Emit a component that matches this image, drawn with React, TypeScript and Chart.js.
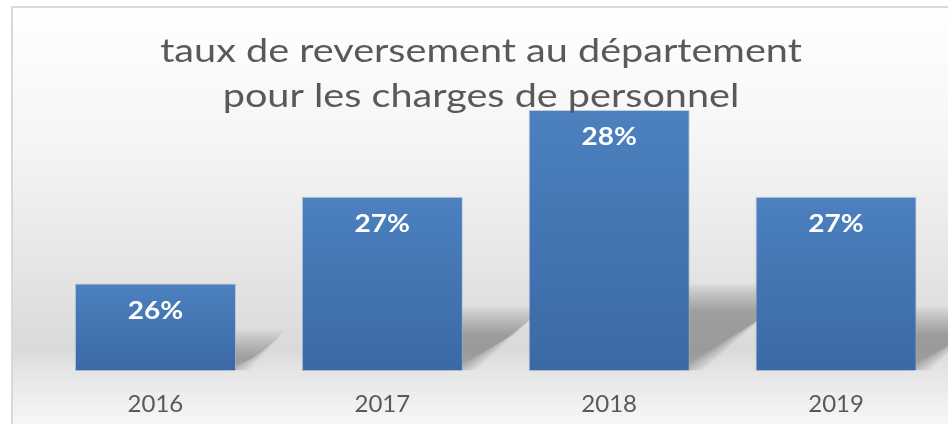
import React, { useEffect, useRef } from "react";
import { Chart, registerables } from "chart.js";

Chart.register(...registerables);

const categories = ["2016", "2017", "2018", "2019"];
const values = [26, 27, 28, 27];
const yMin = 25;
const yMax = 28;
const titleLines = ["taux de reversement au département", "pour les charges de personnel"];

const W = 960;
const H = 452;

const backgroundPlugin = {
  id: "panelBackground",
  beforeDraw(chart: any) {
    const ctx = chart.ctx;
    ctx.save();
    ctx.fillStyle = "#ffffff";
    ctx.fillRect(0, 0, chart.width, chart.height);
    const g = ctx.createLinearGradient(0, 7, 0, 424);
    g.addColorStop(0, "#ffffff");
    g.addColorStop(0.33, "#f5f5f5");
    g.addColorStop(0.7, "#e1e1e1");
    g.addColorStop(0.82, "#dadada");
    g.addColorStop(0.88, "#e6e6e6");
    g.addColorStop(1, "#f7f7f7");
    ctx.fillStyle = g;
    ctx.fillRect(12, 7, chart.width, chart.height);
    ctx.strokeStyle = "#d9d9d9";
    ctx.lineWidth = 2;
    ctx.strokeRect(12, 7, chart.width + 10, chart.height + 10);
    ctx.restore();
  },
};

const shadowPlugin = {
  id: "barShadows",
  beforeDatasetsDraw(chart: any) {
    const ctx = chart.ctx;
    const meta = chart.getDatasetMeta(0);
    const N = 20;
    const R = 14;
    const bottom = chart.chartArea.bottom;
    ctx.save();
    ctx.fillStyle = "rgba(70,70,70,0.019)";
    meta.data.forEach((el: any) => {
      const base = Math.min(el.base, bottom);
      const h = base - el.y;
      const sh = 0.27 * h + 3;
      const dx = sh * 1.35;
      const x1 = el.x - el.width / 2;
      const x2 = el.x + el.width / 2;
      for (let k = 0; k < N; k++) {
        const e = R * (1 - (2 * k) / (N - 1));
        ctx.beginPath();
        ctx.moveTo(x1, base);
        ctx.lineTo(x2 + e, base);
        ctx.lineTo(x2 + dx + e, base - sh - e);
        ctx.lineTo(x1 + dx, base - sh - e);
        ctx.closePath();
        ctx.fill();
      }
    });
    ctx.restore();
  },
};

const labelPlugin = {
  id: "barLabels",
  afterDatasetsDraw(chart: any) {
    const ctx = chart.ctx;
    const meta = chart.getDatasetMeta(0);
    ctx.save();
    ctx.fillStyle = "#ffffff";
    ctx.font = "bold 25px Lato";
    ctx.textAlign = "center";
    ctx.textBaseline = "middle";
    meta.data.forEach((el: any, i: number) => {
      ctx.save();
      ctx.translate(el.x, el.y + 27);
      ctx.scale(1.12, 1);
      ctx.fillText(values[i] + "%", 0, 0);
      ctx.restore();
    });
    ctx.restore();
  },
};

const titlePlugin = {
  id: "overlayTitle",
  afterDraw(chart: any) {
    const ctx = chart.ctx;
    ctx.save();
    ctx.fillStyle = "#595959";
    ctx.font = "33px Lato";
    ctx.textAlign = "center";
    ctx.textBaseline = "alphabetic";
    ctx.translate(481, 0);
    ctx.scale(1.2, 1);
    ctx.fillText(titleLines[0], 0, 62);
    ctx.fillText(titleLines[1], 0, 107);
    ctx.restore();
  },
};

export default function App() {
  const ref = useRef<HTMLCanvasElement>(null);

  useEffect(() => {
    if (!ref.current) return;
    const chart = new Chart(ref.current, {
      type: "bar",
      data: {
        labels: categories,
        datasets: [
          {
            data: values,
            backgroundColor: (c: any) => {
              const chart = c.chart;
              const ys = chart.scales && chart.scales.y;
              if (!chart.chartArea || !ys || c.dataIndex === undefined) return "#4677b4";
              const top = ys.getPixelForValue(values[c.dataIndex]);
              const base = ys.getPixelForValue(yMin);
              const g = chart.ctx.createLinearGradient(0, top, 0, base);
              g.addColorStop(0, "#4c80bf");
              g.addColorStop(1, "#3b69a5");
              return g;
            },
            borderColor: "rgba(150,180,220,0.6)",
            borderWidth: 1,
            barPercentage: 0.71,
            categoryPercentage: 1,
          },
        ],
      },
      options: {
        responsive: false,
        maintainAspectRatio: false,
        animation: false,
        devicePixelRatio: 1,
        layout: { padding: { left: 42, right: 10.5, top: 110, bottom: 13 } },
        plugins: {
          legend: { display: false },
          title: { display: false },
          tooltip: { enabled: false },
        },
        scales: {
          x: {
            grid: { display: false, drawTicks: false },
            border: { display: false },
            ticks: { color: "#595959", font: { family: "Lato", size: 24 }, padding: 20 },
          },
          y: { display: false, min: yMin, max: yMax },
        },
      },
      plugins: [backgroundPlugin, shadowPlugin, labelPlugin, titlePlugin],
    });
    return () => chart.destroy();
  }, []);

  return (
    <div style={{ position: "fixed", left: 0, top: 0, width: 948, height: 424, overflow: "hidden" }}>
      <canvas ref={ref} width={W} height={H} style={{ display: "block", width: W, height: H }} />
    </div>
  );
}
